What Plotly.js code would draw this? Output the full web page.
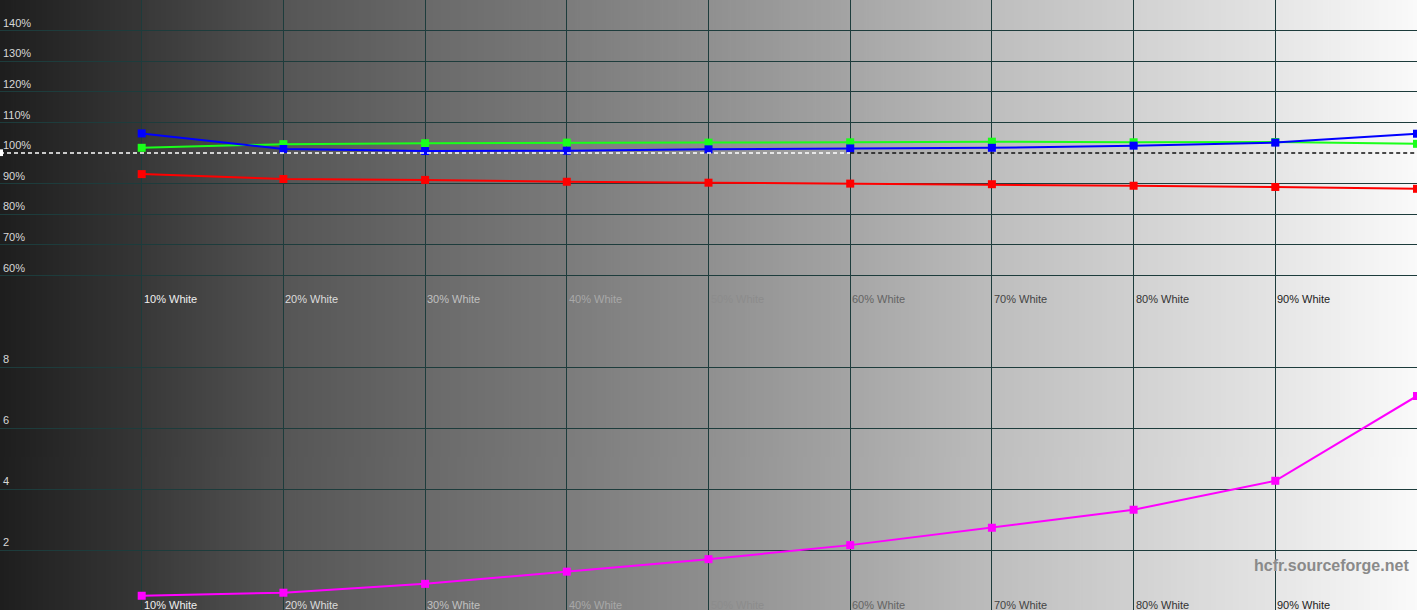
<!DOCTYPE html>
<html>
<head>
<meta charset="utf-8">
<script src="https://cdn.plot.ly/plotly-3.0.1.min.js"></script>
<style>
  html, body { margin: 0; padding: 0; background: #1e1e1e; }
  #chart { width: 1417px; height: 610px; }
</style>
</head>
<body>
<div id="chart"></div>
<script>
// measured patches (10% .. 100% white)
var steps = [10, 20, 30, 40, 50, 60, 70, 80, 90, 100];
var stepLabels = ['10% White', '20% White', '30% White', '40% White', '50% White',
                  '60% White', '70% White', '80% White', '90% White'];
var labelColors = ['#f0f0f0', '#dcdcdc', '#c0c0c0', '#a8a8a8', '#8c8c8c',
                   '#646464', '#444444', '#333333', '#222222'];

// RGB levels in %
var redLevel   = [93.1, 91.5, 91.2, 90.6, 90.3, 90.0, 89.8, 89.3, 88.9, 88.3];
var greenLevel = [101.7, 102.9, 103.2, 103.4, 103.4, 103.5, 103.7, 103.5, 103.6, 103.0];
var blueLevel  = [106.4, 101.3, 100.65, 100.75, 101.2, 101.5, 101.7, 102.4, 103.4, 106.3];

// delta E
var deltaE = [0.50, 0.60, 0.89, 1.29, 1.70, 2.16, 2.73, 3.32, 4.27, 7.05];

var rgbTicks = [60, 70, 80, 90, 100, 110, 120, 130, 140];
var rgbGrid = [60, 70, 80, 90, 110, 120, 130, 140];
var deTicks = [2, 4, 6, 8];

// grey ramp behind the plot, one column per patch
var bgStart = [30, 56, 86, 106, 124, 144, 166, 190, 210, 230];
var bgEnd   = [54, 84, 104, 122, 142, 164, 188, 208, 228, 250];

function makeRamp() {
  var c = document.createElement('canvas');
  c.width = 1000; c.height = 2;
  var ctx = c.getContext('2d');
  var g = ctx.createLinearGradient(0, 0, 1000, 0);
  for (var i = 0; i < bgStart.length; i++) {
    var a = i / bgStart.length, b = (i + 1) / bgStart.length - 0.0005;
    g.addColorStop(a, 'rgb(' + bgStart[i] + ',' + bgStart[i] + ',' + bgStart[i] + ')');
    g.addColorStop(b, 'rgb(' + bgEnd[i] + ',' + bgEnd[i] + ',' + bgEnd[i] + ')');
  }
  ctx.fillStyle = g;
  ctx.fillRect(0, 0, 1000, 2);
  return c.toDataURL('image/png');
}

var gridCol = '#1d3c3c';
var split = 304 / 610;
var font = 'Liberation Sans, Arial, sans-serif';

function lineTrace(y, col, xa, ya) {
  return {
    type: 'scatter', mode: 'lines+markers',
    x: steps, y: y, xaxis: xa, yaxis: ya,
    line: {color: col, width: 2},
    marker: {color: col, symbol: 'square', size: 8},
    hoverinfo: 'skip'
  };
}

var data = [
  lineTrace(redLevel, '#ff0000', 'x', 'y'),
  lineTrace(greenLevel, '#1aff1a', 'x', 'y'),
  lineTrace(blueLevel, '#0000ff', 'x', 'y'),
  lineTrace(deltaE, '#ff00ff', 'x2', 'y2')
];

function xAxis(anchor) {
  return {
    anchor: anchor, domain: [0, 1], range: [0, 100],
    tickmode: 'array', tickvals: steps.slice(0, 9),
    ticks: '', showticklabels: false,
    showgrid: true, gridcolor: gridCol, gridwidth: 1,
    zeroline: false, showline: false, fixedrange: true
  };
}

// patch names sit just above the bottom of each panel
var annotations = [];
[(610 - 299) / 610, (610 - 605) / 610].forEach(function (yp) {
  stepLabels.forEach(function (t, i) {
    annotations.push({
      xref: 'x', yref: 'paper', x: steps[i], y: yp,
      xanchor: 'left', yanchor: 'middle', xshift: 0, showarrow: false,
      text: t, font: {family: font, size: 11, color: labelColors[i]}
    });
  });
});
annotations.push({
  xref: 'paper', yref: 'paper', x: 0.9955, y: 45 / 610,
  xanchor: 'right', yanchor: 'middle', showarrow: false,
  text: '<b>hcfr.sourceforge.net</b>',
  font: {family: font, size: 16, color: '#8a8a8a'}
});

var layout = {
  width: 1417, height: 610,
  margin: {l: 0, r: 0, t: 0, b: 0, pad: 0},
  paper_bgcolor: '#1e1e1e',
  plot_bgcolor: 'rgba(0,0,0,0)',
  showlegend: false,
  font: {family: font, size: 11, color: '#d8d8d8'},
  images: [{
    source: makeRamp(), xref: 'paper', yref: 'paper',
    x: 0, y: 1, sizex: 1, sizey: 1,
    sizing: 'stretch', xanchor: 'left', yanchor: 'top', layer: 'below'
  }],
  xaxis: xAxis('y'),
  xaxis2: xAxis('y2'),
  yaxis: {
    domain: [split, 1], range: [50, 150], anchor: 'x',
    tickmode: 'array', tickvals: rgbTicks,
    ticktext: rgbTicks.map(function (v) { return v + '%'; }),
    ticks: '', ticklabelposition: 'inside top',
    tickfont: {family: font, size: 11, color: '#d8d8d8'},
    showgrid: false, zeroline: false, showline: false, fixedrange: true
  },
  yaxis3: {
    overlaying: 'y', anchor: 'x', range: [50, 150],
    tickmode: 'array', tickvals: rgbGrid, showticklabels: false, ticks: '',
    showgrid: true, gridcolor: gridCol, gridwidth: 1,
    zeroline: false, showline: false, fixedrange: true
  },
  yaxis2: {
    domain: [0, split], range: [0.033, 10], anchor: 'x2',
    tickmode: 'array', tickvals: deTicks,
    ticks: '', ticklabelposition: 'inside top',
    tickfont: {family: font, size: 11, color: '#d8d8d8'},
    showgrid: true, gridcolor: gridCol, gridwidth: 1,
    zeroline: false, showline: false, fixedrange: true
  },
  shapes: [
    {type: 'line', xref: 'x', yref: 'y', x0: 0, x1: 60, y0: 100, y1: 100,
     line: {color: '#ffffff', width: 1.3, dash: '4px,3px'}},
    {type: 'line', xref: 'x', yref: 'y', x0: 60, x1: 100, y0: 100, y1: 100,
     line: {color: '#111111', width: 1.3, dash: '4px,3px'}},
    {type: 'rect', xref: 'paper', yref: 'y', x0: 0, x1: 3 / 1417, y0: 99, y1: 101.2,
     fillcolor: '#ffffff', line: {width: 0}}
  ],
  annotations: annotations
};

// a dummy trace so yaxis3 gets drawn
data.push({type: 'scatter', x: [], y: [], xaxis: 'x', yaxis: 'y3', hoverinfo: 'skip'});

Plotly.newPlot('chart', data, layout, {displayModeBar: false, staticPlot: true});
</script>
</body>
</html>
